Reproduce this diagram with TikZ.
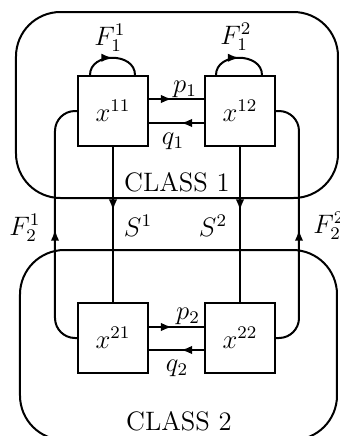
\documentclass[tikz,border=0pt]{standalone}
\usetikzlibrary{arrows.meta,decorations.markings,calc}
\tikzset{
  ln/.style={line width=0.9pt},
  cls/.style={ln, draw, rounded corners=20pt},
  stbox/.style={ln, draw, minimum width=31.5pt, minimum height=31.5pt, inner sep=0pt, font=\large},
  midarr/.style={ln, postaction={decorate}, decoration={markings, mark=at position #1 with {\arrow{Latex[length=5pt,width=3.8pt]}}}},
  lbl/.style={font=\large, inner sep=0pt},
}
\begin{document}
\begin{tikzpicture}[x=0.45pt,y=-0.45pt]
\useasboundingbox (0,0) rectangle (340,436);
% class regions
\draw[cls] (16,12) rectangle (338,198);
\draw[cls] (20,250) rectangle (337,440);
\node[lbl] (c1) at (177,182) {CLASS 1};
\node[lbl] (c2) at (179,421) {CLASS 2};
% states
\node[stbox] (x11) at (113,111) {$x^{11}$};
\node[stbox] (x12) at (240,111) {$x^{12}$};
\node[stbox] (x21) at (113,338) {$x^{21}$};
\node[stbox] (x22) at (240,338) {$x^{22}$};
% self loops
\draw[midarr=0.5] ($(x11.north)+(-23,0)$) .. controls +(0,-23) and +(0,-23) .. ($(x11.north)+(22,0)$);
\draw[midarr=0.5] ($(x12.north)+(-24,0)$) .. controls +(0,-23) and +(0,-23) .. ($(x12.north)+(22,0)$);
\node[lbl] (f11) at (110,38) {$F_1^1$};
\node[lbl] (f12) at (236,37) {$F_1^2$};
% horizontal flows
\draw[midarr=0.42] ($(x11.east)+(0,-12)$) -- ($(x12.west)+(0,-12)$);
\draw[midarr=0.42] ($(x12.west)+(0,12)$) -- ($(x11.east)+(0,12)$);
\draw[midarr=0.42] ($(x21.east)+(0,-11)$) -- ($(x22.west)+(0,-11)$);
\draw[midarr=0.42] ($(x22.west)+(0,12)$) -- ($(x21.east)+(0,12)$);
\node[lbl] (p1) at (185,89) {$p_1$};
\node[lbl] (q1) at (173,141) {$q_1$};
\node[lbl] (p2) at (188,316) {$p_2$};
\node[lbl] (q2) at (177,368) {$q_2$};
% vertical flows
\draw[midarr=0.41] (x11.south) -- (x21.north);
\draw[midarr=0.41] (x12.south) -- (x22.north);
\node[lbl] (s1) at (138,226) {$S^1$};
\node[lbl] (s2) at (213,226) {$S^2$};
% return flows
\coordinate (lb) at (55,338);
\coordinate (lt) at (55,111);
\coordinate (rb) at (299,338);
\coordinate (rt) at (299,111);
\draw[midarr=0.48, rounded corners=9pt] (x21.west) -- (lb) -- (lt) -- (x11.west);
\draw[midarr=0.48, rounded corners=9pt] (x22.east) -- (rb) -- (rt) -- (x12.east);
\node[lbl] (f21) at (25,228) {$F_2^1$};
\node[lbl, anchor=west] (f22) at (313,226) {$F_2^2$};
\end{tikzpicture}
\end{document}
